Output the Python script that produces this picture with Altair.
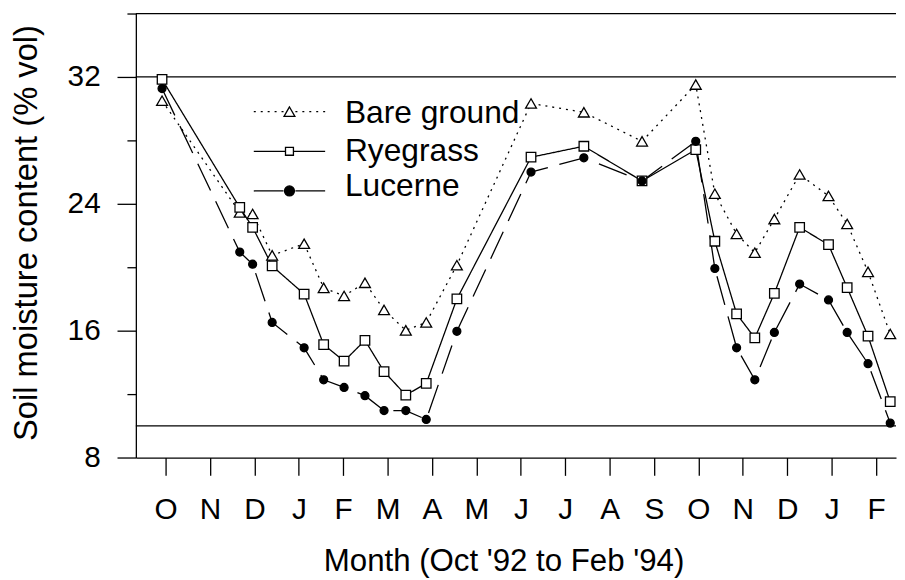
import json
import altair as alt
import pandas as pd

# ---- data ----
months = ["O", "N", "D", "J", "F", "M", "A", "M", "J", "J", "A", "S",
          "O", "N", "D", "J", "F"]
# sampling times, in months after Oct '92
x_month = [-0.08, 1.67, 1.96, 2.40, 3.12, 3.56, 4.02, 4.49, 4.92, 5.41, 5.87,
           6.56, 8.23, 9.42, 10.73, 11.94, 12.37, 12.86, 13.27, 13.71, 14.28,
           14.93, 15.35, 15.82, 16.32]
bare = [30.5, 23.46, 23.36, 20.75, 21.48, 18.7, 18.19, 19.02, 17.31, 16.02,
        16.52, 20.13, 30.33, 29.77, 27.94, 31.52, 24.64, 22.1, 20.92, 23.04,
        25.85, 24.5, 22.73, 19.71, 15.79]
rye = [31.85, 23.77, 22.52, 20.08, 18.31, 15.12, 14.08, 15.39, 13.42, 11.94,
       12.67, 18.0, 26.94, 27.63, 25.44, 27.42, 21.64, 17.06, 15.54, 18.35,
       22.52, 21.42, 18.71, 15.65, 11.52]
luc = [31.27, 20.96, 20.19, 16.52, 14.92, 12.9, 12.42, 11.9, 10.96, 10.96,
       10.4, 15.96, 26.0, 26.9, 25.44, 27.94, 19.92, 14.92, 12.9, 15.89,
       18.94, 17.94, 15.89, 13.92, 10.17]
series_names = ["Bare ground", "Ryegrass", "Lucerne"]
ref_lines = [36, 32, 10]

rows = []
for name, vals in zip(series_names, [bare, rye, luc]):
    for xv, yv in zip(x_month, vals):
        rows.append({"series": name, "month": xv, "moisture": yv})
df = pd.DataFrame(rows)

FONT = "Liberation Sans"
W, H = 767, 448
LW = 1.3

dashes = [[2, 5], [1, 0], [30, 12]]
shapes = ["triangle-up", "square", "circle"]
fills = ["white", "white", "black"]
sizes = [120, 64, 100]

xscale = alt.Scale(domain=[-0.67, 16.45], nice=False, zero=False)
yscale = alt.Scale(domain=[8, 36], nice=False, zero=False)

label_expr = json.dumps(months) + "[round(datum.value)]"

xaxis = alt.Axis(
    values=list(range(len(months))), labelExpr=label_expr,
    title="Month (Oct '92 to Feb '94)", grid=False,
    tickSize=18, labelPadding=44, labelBaseline="alphabetic",
    titleX=371, titleY=114, titleBaseline="alphabetic", titleAlign="center",
    titleFontSize=31.5,
)
yaxis = alt.Axis(
    values=list(range(8, 37, 2)),
    labelExpr="datum.value % 8 == 0 ? datum.label : ''",
    tickSize={"condition": {"test": "datum.value % 8 === 0", "value": 19}, "value": 9},
    labelPadding=17, grid=False,
    title="Soil moisture content (% vol)", titleAngle=270,
    titleX=-100, titleY=221, titleBaseline="alphabetic", titleAlign="center",
    titleFontSize=33,
)

base = alt.Chart(df)

lines = base.mark_line(color="black", strokeWidth=LW).encode(
    x=alt.X("month:Q", scale=xscale, axis=xaxis),
    y=alt.Y("moisture:Q", scale=yscale, axis=yaxis),
    detail="series:N",
    strokeDash=alt.StrokeDash("series:N", scale=alt.Scale(domain=series_names, range=dashes), legend=None),
)

points = base.mark_point(filled=True, stroke="black", strokeWidth=LW, opacity=1).encode(
    x=alt.X("month:Q", scale=xscale),
    y=alt.Y("moisture:Q", scale=yscale),
    shape=alt.Shape("series:N", scale=alt.Scale(domain=series_names, range=shapes), legend=None),
    fill=alt.Fill("series:N", scale=alt.Scale(domain=series_names, range=fills), legend=None),
    size=alt.Size("series:N", scale=alt.Scale(domain=series_names, range=sizes), legend=None),
)

refs = alt.Chart(pd.DataFrame({"y": ref_lines})).mark_rule(color="black", strokeWidth=LW).encode(
    y=alt.Y("y:Q", scale=yscale)
)

# ---- manual legend ----
leg_sym_y = [99, 139, 179]
leg_txt_y = [110.7, 149, 184]
legend_layers = []
for i, name in enumerate(series_names):
    d = alt.Data(values=[{"s": name}])
    legend_layers.append(
        alt.Chart(d).mark_rule(color="black", strokeWidth=LW, strokeDash=dashes[i]).encode(
            x=alt.value(119), x2=alt.value(191), y=alt.value(leg_sym_y[i]))
    )
    legend_layers.append(
        alt.Chart(d).mark_point(filled=True, shape=shapes[i], size=sizes[i], fill=fills[i],
                                stroke="black", strokeWidth=LW, opacity=1).encode(
            x=alt.value(155), y=alt.value(leg_sym_y[i]))
    )
    legend_layers.append(
        alt.Chart(d).mark_text(align="left", baseline="alphabetic", font=FONT, fontSize=32,
                               color="black").encode(
            x=alt.value(211), y=alt.value(leg_txt_y[i]), text=alt.Text("s:N"))
    )

chart = alt.layer(refs, lines, points, *legend_layers).properties(
    width=W, height=H,
    autosize=alt.AutoSizeParams(type="none"),
    padding={"left": 129, "top": 3, "right": 1, "bottom": 121},
    background="white",
).configure_view(stroke=None).configure_axis(
    labelFont=FONT, labelFontSize=30, labelColor="black",
    titleFont=FONT, titleColor="black", titleFontWeight="normal",
    domainColor="black", tickColor="black", domainWidth=LW, tickWidth=LW,
)

chart.save("out.html", embed_options={"renderer": "svg", "actions": False})
